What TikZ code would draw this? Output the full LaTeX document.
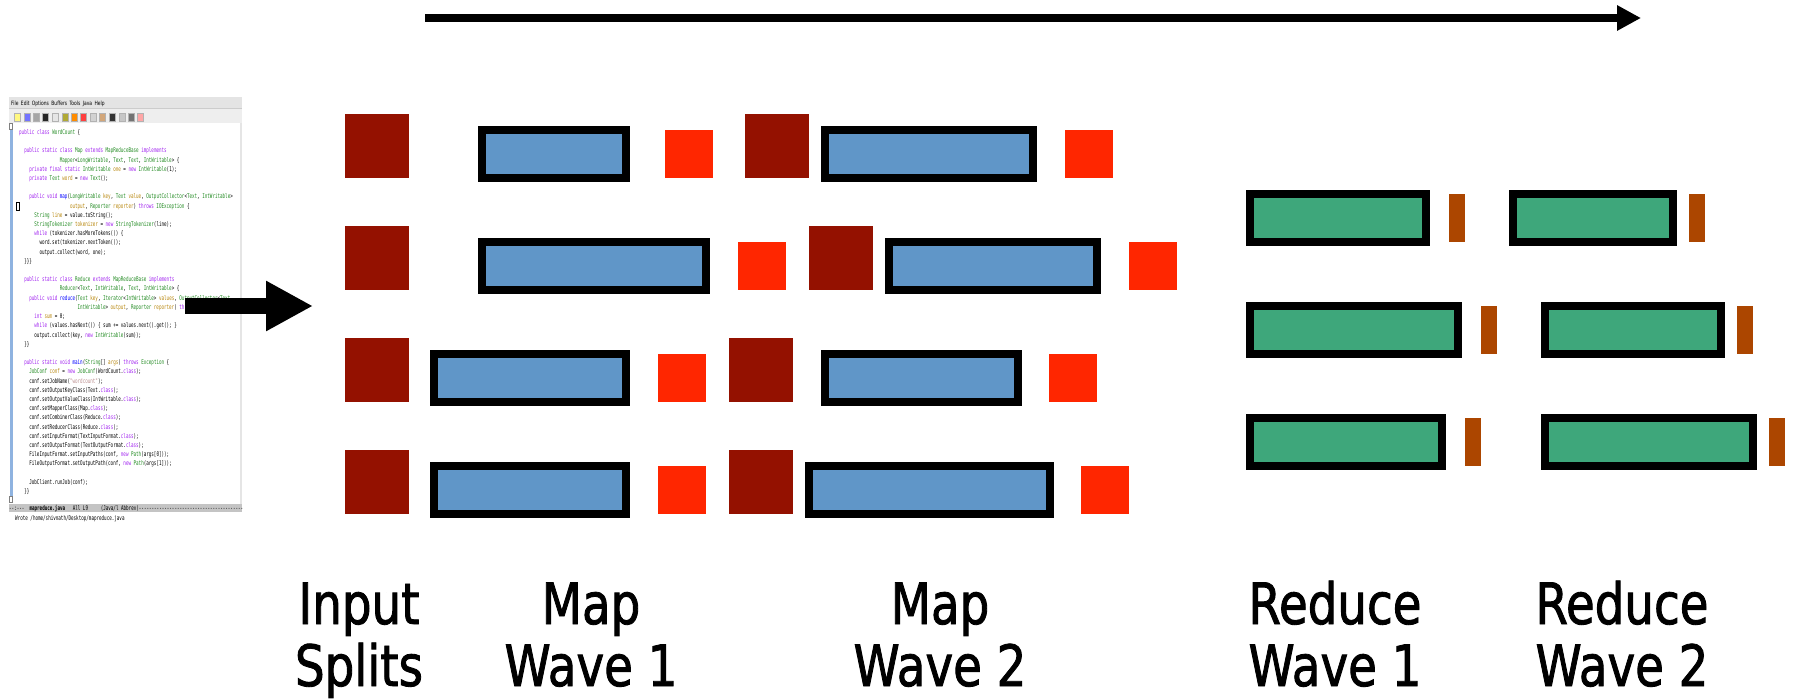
\documentclass[tikz,border=0pt]{standalone}
\usepackage{fontspec}
\setmonofont[FakeStretch=0.65]{DejaVu Sans Mono}
\newfontfamily\lblfont[FakeStretch=0.82,FakeBold=1.5]{DejaVu Sans}
\newfontfamily\menufont[FakeStretch=0.75]{DejaVu Sans}
\usetikzlibrary{arrows.meta}
\definecolor{splitred}{HTML}{941100}
\definecolor{outred}{HTML}{FF2600}
\definecolor{mapblue}{HTML}{6096C8}
\definecolor{redgreen}{HTML}{3EA77B}
\definecolor{redorange}{HTML}{AC4600}
\definecolor{ckw}{HTML}{A020F0}
\definecolor{cty}{HTML}{228B22}
\definecolor{cfn}{HTML}{0000FF}
\definecolor{cvr}{HTML}{B8860B}
\definecolor{cst}{HTML}{BC8F8F}
\definecolor{menugray}{HTML}{E4E4E4}
\definecolor{toolgray}{HTML}{EEEEEE}
\definecolor{modegray}{HTML}{C4C4C4}
\definecolor{fringeblue}{HTML}{8FB3E0}
\newcommand\cK[1]{\textcolor{ckw}{#1}}
\newcommand\cT[1]{\textcolor{cty}{#1}}
\newcommand\cF[1]{\textcolor{cfn}{#1}}
\newcommand\cV[1]{\textcolor{cvr}{#1}}
\newcommand\cS[1]{\textcolor{cst}{#1}}
\newcommand\codeln[4]{\node[codeline] (#1) at ({19+#3*2.54},{134.5+(#2-1)*9.205}) {#4};}
\tikzset{
  splitsq/.style={fill=splitred, draw=none, minimum width=64pt, minimum height=64pt, inner sep=0pt, outer sep=0pt},
  outsq/.style={fill=outred, draw=none, minimum width=48pt, minimum height=48pt, inner sep=0pt, outer sep=0pt},
  mapbox/.style={fill=mapblue, draw=black, line width=8pt, minimum height=48pt, inner sep=0pt, outer sep=0pt},
  redbox/.style={fill=redgreen, draw=black, line width=8pt, minimum height=48pt, inner sep=0pt, outer sep=0pt},
  redout/.style={fill=redorange, draw=none, minimum width=16pt, minimum height=48pt, inner sep=0pt, outer sep=0pt},
  codeline/.style={anchor=base west, inner sep=0pt, font=\ttfamily\fontsize{6.5}{6.5}\selectfont},
  menutext/.style={anchor=base west, inner sep=0pt, font=\menufont\fontsize{5.9}{5.9}\selectfont},
  icon/.style={draw=gray!60, line width=0.3pt, minimum width=6pt, minimum height=8pt, inner sep=0pt},
  lbl/.style={anchor=base, inner sep=0pt, font=\lblfont\fontsize{57}{62}\selectfont},
  timearrow/.style={line width=8pt, -{Triangle[length=24pt,width=24pt]}},
  fatarrow/.style={line width=16pt, -{Triangle[length=47pt,width=47pt]}}
}
\begin{document}
\begin{tikzpicture}[x=1pt,y=-1pt]
\useasboundingbox (0,0) rectangle (1796,699);
\fill[white] (0,0) rectangle (1796,699);

% ---- editor screenshot ----
\fill[white] (9,97) rectangle (242,522);
\fill[menugray] (9,97) rectangle (242,108);
\fill[toolgray] (9,108) rectangle (242,123);
\draw[gray!40, line width=0.4pt] (9,108) -- (242,108);
\fill[modegray] (9,504) rectangle (242,512);
\fill[fringeblue] (9.5,130) rectangle (12.5,496);
\draw[gray, line width=0.4pt, fill=white] (9.5,123.5) rectangle (12.5,129.5);
\draw[gray, line width=0.4pt, fill=white] (9.5,496) rectangle (12.5,502);
\fill[gray!20] (239.5,123) rectangle (241.5,504);
\node[menutext] (menu) at (11,105) {File\, Edit\, Options\, Buffers\, Tools\, Java\, Help};
\foreach \i/\xx/\ic in {1/17/yellow!50, 2/27/blue!55, 3/36/gray!70, 4/45/black!85, 5/55/gray!20,
  6/65/olive!70, 7/74/orange!90!yellow, 8/83/red!75, 9/93/gray!35, 10/102/brown!70,
  11/112/black!80, 12/122/gray!45, 13/131/black!55, 14/140/red!35}
  \node[icon, fill=\ic] (ic\i) at (\xx,117) {};
\node[draw=black, line width=0.4pt, minimum width=3pt, minimum height=8pt, inner sep=0pt] (cursor) at (17.5,206) {};

\codeln{c1}{1}{0}{\cK{public class} \cT{WordCount} \{}
\codeln{c3}{3}{2}{\cK{public static class} \cT{Map} \cK{extends} \cT{MapReduceBase} \cK{implements}}
\codeln{c4}{4}{16}{\cT{Mapper}<\cT{LongWritable}, \cT{Text}, \cT{Text}, \cT{IntWritable}> \{}
\codeln{c5}{5}{4}{\cK{private final static} \cT{IntWritable} \cV{one} = \cK{new} \cT{IntWritable}(1);}
\codeln{c6}{6}{4}{\cK{private} \cT{Text} \cV{word} = \cK{new} \cT{Text}();}
\codeln{c8}{8}{4}{\cK{public void} \cF{map}(\cT{LongWritable} \cV{key}, \cT{Text} \cV{value}, \cT{OutputCollector}<\cT{Text}, \cT{IntWritable}>}
\codeln{c9}{9}{20}{\cV{output}, \cT{Reporter} \cV{reporter}) \cK{throws} \cT{IOException} \{}
\codeln{c10}{10}{6}{\cT{String} \cV{line} = value.toString();}
\codeln{c11}{11}{6}{\cT{StringTokenizer} \cV{tokenizer} = \cK{new} \cT{StringTokenizer}(line);}
\codeln{c12}{12}{6}{\cK{while} (tokenizer.hasMoreTokens()) \{}
\codeln{c13}{13}{8}{word.set(tokenizer.nextToken());}
\codeln{c14}{14}{8}{output.collect(word, one);}
\codeln{c15}{15}{2}{\}\}\}}
\codeln{c17}{17}{2}{\cK{public static class} \cT{Reduce} \cK{extends} \cT{MapReduceBase} \cK{implements}}
\codeln{c18}{18}{16}{\cT{Reducer}<\cT{Text}, \cT{IntWritable}, \cT{Text}, \cT{IntWritable}> \{}
\codeln{c19}{19}{4}{\cK{public void} \cF{reduce}(\cT{Text} \cV{key}, \cT{Iterator}<\cT{IntWritable}> \cV{values}, \cT{OutputCollector}<\cT{Text},}
\codeln{c20}{20}{23}{\cT{IntWritable}> \cV{output}, \cT{Reporter} \cV{reporter}) \cK{throws} \cT{IOException} \{}
\codeln{c21}{21}{6}{\cK{int} \cV{sum} = 0;}
\codeln{c22}{22}{6}{\cK{while} (values.hasNext()) \{ sum += values.next().get(); \}}
\codeln{c23}{23}{6}{output.collect(key, \cK{new} \cT{IntWritable}(sum));}
\codeln{c24}{24}{2}{\}\}}
\codeln{c26}{26}{2}{\cK{public static void} \cF{main}(\cT{String}[] \cV{args}) \cK{throws} \cT{Exception} \{}
\codeln{c27}{27}{4}{\cT{JobConf} \cV{conf} = \cK{new} \cT{JobConf}(WordCount.\cK{class});}
\codeln{c28}{28}{4}{conf.setJobName(\cS{"wordcount"});}
\codeln{c29}{29}{4}{conf.setOutputKeyClass(Text.\cK{class});}
\codeln{c30}{30}{4}{conf.setOutputValueClass(IntWritable.\cK{class});}
\codeln{c31}{31}{4}{conf.setMapperClass(Map.\cK{class});}
\codeln{c32}{32}{4}{conf.setCombinerClass(Reduce.\cK{class});}
\codeln{c33}{33}{4}{conf.setReducerClass(Reduce.\cK{class});}
\codeln{c34}{34}{4}{conf.setInputFormat(TextInputFormat.\cK{class});}
\codeln{c35}{35}{4}{conf.setOutputFormat(TextOutputFormat.\cK{class});}
\codeln{c36}{36}{4}{FileInputFormat.setInputPaths(conf, \cK{new} \cT{Path}(args[0]));}
\codeln{c37}{37}{4}{FileOutputFormat.setOutputPath(conf, \cK{new} \cT{Path}(args[1]));}
\codeln{c39}{39}{4}{JobClient.runJob(conf);}
\codeln{c40}{40}{2}{\}\}}
\node[codeline] (mode) at (9,510) {--:---~~\textbf{mapreduce.java}~~~All~L9~~~~~(Java/l~Abbrev)-----------------------------------------};
\node[codeline] (msg) at (15,520) {Wrote /home/shivnath/Desktop/mapreduce.java};

% ---- input splits ----
\node[splitsq] (s1) at (377,146) {};
\node[splitsq] (s2) at (377,258) {};
\node[splitsq] (s3) at (377,370) {};
\node[splitsq] (s4) at (377,482) {};

% ---- map wave 1 ----
\node[mapbox, minimum width=144pt] (m1a) at (554,154) {};
\node[mapbox, minimum width=224pt] (m2a) at (594,266) {};
\node[mapbox, minimum width=192pt] (m3a) at (530,378) {};
\node[mapbox, minimum width=192pt] (m4a) at (530,490) {};
\node[outsq] (o1a) at (689,154) {};
\node[outsq] (o2a) at (762,266) {};
\node[outsq] (o3a) at (682,378) {};
\node[outsq] (o4a) at (682,490) {};

% ---- map wave 2 ----
\node[splitsq] (s1b) at (777,146) {};
\node[splitsq] (s2b) at (841,258) {};
\node[splitsq] (s3b) at (761,370) {};
\node[splitsq] (s4b) at (761,482) {};
\node[mapbox, minimum width=208pt] (m1b) at (929,154) {};
\node[mapbox, minimum width=208pt] (m2b) at (993,266) {};
\node[mapbox, minimum width=193pt] (m3b) at (921.5,378) {};
\node[mapbox, minimum width=241pt] (m4b) at (929.5,490) {};
\node[outsq] (o1b) at (1089,154) {};
\node[outsq] (o2b) at (1153,266) {};
\node[outsq] (o3b) at (1073,378) {};
\node[outsq] (o4b) at (1105,490) {};

% ---- reduce waves ----
\node[redbox, minimum width=176pt] (g1a) at (1338,218) {};
\node[redbox, minimum width=208pt] (g2a) at (1354,330) {};
\node[redbox, minimum width=192pt] (g3a) at (1346,442) {};
\node[redout] (q1a) at (1457,218) {};
\node[redout] (q2a) at (1489,330) {};
\node[redout] (q3a) at (1473,442) {};
\node[redbox, minimum width=160pt] (g1b) at (1593,218) {};
\node[redbox, minimum width=176pt] (g2b) at (1633,330) {};
\node[redbox, minimum width=208pt] (g3b) at (1649,442) {};
\node[redout] (q1b) at (1697,218) {};
\node[redout] (q2b) at (1745,330) {};
\node[redout] (q3b) at (1777,442) {};

% ---- arrows ----
\coordinate (tA) at (425,18);
\coordinate (tB) at (1641,18);
\draw[timearrow] (tA) -- (tB);
\coordinate (lA) at (185,306);
\coordinate (lB) at (313,306);
\draw[fatarrow] (lA) -- (lB);

% ---- labels ----
\node[lbl] (inA) at (359,624) {Input};
\node[lbl] (inB) at (359,686) {Splits};
\node[lbl] (mw1A) at (591,624) {Map};
\node[lbl] (mw1B) at (591,686) {Wave 1};
\node[lbl] (mw2A) at (940,624) {Map};
\node[lbl] (mw2B) at (940,686) {Wave 2};
\node[lbl] (rw1A) at (1335,624) {Reduce};
\node[lbl] (rw1B) at (1335,686) {Wave 1};
\node[lbl] (rw2A) at (1622,624) {Reduce};
\node[lbl] (rw2B) at (1622,686) {Wave 2};
\end{tikzpicture}
\end{document}
